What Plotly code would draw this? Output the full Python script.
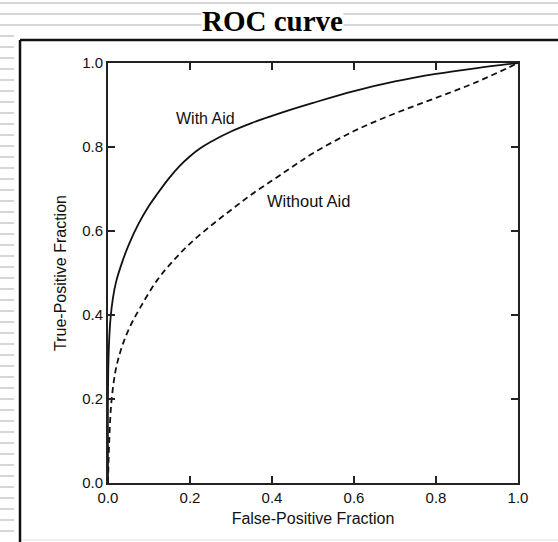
import plotly.graph_objects as go

# ---- data ----
with_aid_fpf = [0.0, 0.0, 0.002, 0.006, 0.012, 0.02, 0.035, 0.05, 0.075, 0.1, 0.12, 0.15,
                0.175, 0.2, 0.225, 0.25, 0.3, 0.35, 0.4, 0.45, 0.5, 0.6, 0.7, 0.8, 0.9, 1.0]
with_aid_tpf = [0.0, 0.22, 0.32, 0.39, 0.44, 0.48, 0.527, 0.566, 0.618, 0.66, 0.688, 0.727,
                0.755, 0.778, 0.797, 0.812, 0.837, 0.857, 0.874, 0.89, 0.905, 0.933, 0.956,
                0.974, 0.988, 1.0]

without_aid_fpf = [0.0, 0.003, 0.008, 0.017, 0.025, 0.037, 0.055, 0.08, 0.12, 0.16, 0.2,
                   0.25, 0.3, 0.35, 0.4, 0.45, 0.5, 0.6, 0.7, 0.8, 0.9, 1.0]
without_aid_tpf = [0.0, 0.1, 0.19, 0.26, 0.295, 0.333, 0.375, 0.42, 0.483, 0.53, 0.57,
                   0.612, 0.65, 0.687, 0.72, 0.753, 0.785, 0.838, 0.88, 0.917, 0.955, 1.0]

tick_vals = [0.0, 0.2, 0.4, 0.6, 0.8, 1.0]
tick_text = ["0.0", "0.2", "0.4", "0.6", "0.8", "1.0"]

chart_title = "ROC curve"
x_title = "False-Positive Fraction"
y_title = "True-Positive Fraction"
label_with = "With Aid"
label_without = "Without Aid"

# ---- layout geometry (pixels) ----
W, H = 558, 542
L, R, T, B = 108, 40, 63, 59
PW, PH = W - L - R, H - T - B


def px(x):
    return (x - L) / PW


def py(y):
    return (H - B - y) / PH


fig = go.Figure()
fig.add_trace(go.Scatter(x=with_aid_fpf, y=with_aid_tpf, mode="lines",
                         line=dict(color="#111111", width=1.8, shape="spline", smoothing=1.0),
                         showlegend=False, hoverinfo="skip"))
fig.add_trace(go.Scatter(x=without_aid_fpf, y=without_aid_tpf, mode="lines",
                         line=dict(color="#111111", width=1.8, dash="6px,4px", shape="spline", smoothing=1.0),
                         showlegend=False, hoverinfo="skip"))

shapes = []
# striped slide background (left strip and top rows)
stripe_color = "#d6d6d6"
y = 3
while y < H:
    x1 = W if y < 30 else 14
    shapes.append(dict(type="line", xref="paper", yref="paper",
                       x0=px(0), x1=px(x1), y0=py(y), y1=py(y),
                       line=dict(color=stripe_color, width=2), layer="below"))
    y += 11
# outer black frame
shapes.append(dict(type="line", xref="paper", yref="paper", x0=px(20), x1=px(20),
                   y0=py(40), y1=py(H + 5), line=dict(color="#111111", width=2.5)))
shapes.append(dict(type="line", xref="paper", yref="paper", x0=px(20), x1=px(W + 5),
                   y0=py(40), y1=py(40), line=dict(color="#111111", width=2.5)))
# faint bottom line
shapes.append(dict(type="line", xref="paper", yref="paper", x0=px(22), x1=px(W),
                   y0=py(540), y1=py(540), line=dict(color="#e2e2e2", width=1)))

annotations = [
    dict(text="<b>" + chart_title + "</b>", xref="paper", yref="paper",
         x=px(272), y=py(21), xanchor="center", yanchor="middle", showarrow=False,
         bgcolor="white", borderpad=0,
         font=dict(family="Liberation Serif, Times New Roman, serif", size=29, color="#000000")),
    dict(text=label_with, x=0.239, y=0.868, xref="x", yref="y", showarrow=False,
         xanchor="center", yanchor="middle",
         font=dict(family="Liberation Sans, Arial, sans-serif", size=16, color="#111111")),
    dict(text=label_without, x=0.489, y=0.671, xref="x", yref="y", showarrow=False,
         xanchor="center", yanchor="middle",
         font=dict(family="Liberation Sans, Arial, sans-serif", size=16.5, color="#111111")),
]

axis_common = dict(range=[0, 1], tickvals=tick_vals, ticktext=tick_text,
                   ticks="inside", ticklen=7, tickwidth=1.5, tickcolor="#222222",
                   showline=True, linewidth=1.8, linecolor="#222222", mirror="ticks",
                   showgrid=False, zeroline=False,
                   tickfont=dict(family="Liberation Sans, Arial, sans-serif", size=15, color="#111111"))

fig.update_layout(
    width=W, height=H, autosize=False,
    margin=dict(l=L, r=R, t=T, b=B, pad=0),
    paper_bgcolor="white", plot_bgcolor="white",
    shapes=shapes, annotations=annotations,
    xaxis=dict(**axis_common,
               title=dict(text=x_title, standoff=8,
                          font=dict(family="Liberation Sans, Arial, sans-serif", size=16, color="#111111"))),
    yaxis=dict(**axis_common,
               title=dict(text=y_title, standoff=12,
                          font=dict(family="Liberation Sans, Arial, sans-serif", size=16, color="#111111"))),
)

fig.write_html("out.html", config={"displayModeBar": False},
               post_script="document.body.style.margin='0';document.body.style.overflow='hidden';")
